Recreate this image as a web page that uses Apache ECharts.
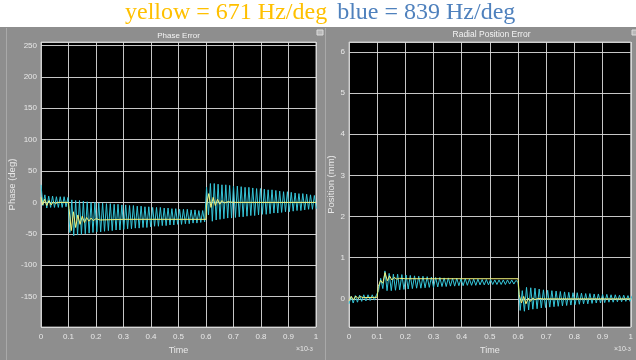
<!DOCTYPE html>
<html>
<head>
<meta charset="utf-8">
<script src="https://cdn.jsdelivr.net/npm/echarts@6/dist/echarts.min.js"></script>
<style>
html, body { margin: 0; padding: 0; background: #fff; }
#chart { width: 636px; height: 360px; background: linear-gradient(#fff 0, #fff 27px, #8e8e8e 27px); }
</style>
</head>
<body>
<div id="chart"></div>
<script>
// time spacing (x1e-3 s) between samples of the oscillating traces
const phaseStep = 0.007;
const posStep = 0.0075;

// Phase Error, deg (blue = 839 Hz/deg), one sample per half cycle
const phaseBlue = [
    28, -5, 12, -9, 10, -8, 10, -8, 9, -8, 9, -8, 9, -7, 8,
    -48, 4, -53, 3, -52, 3, -51, 2, -50, 1, -49, 0, -48, 0, -47, -1, -47, -1, -46, -2,
    -45, -2, -45, -3, -44, -3, -44, -4, -43, -4, -42, -5, -42, -5, -41, -6, -41, -6,
    -40, -7, -40, -7, -39, -8, -38, -8, -38, -8, -37, -9, -37, -9, -36, -10, -36, -10,
    -35, -11, -35, -11, -34, -11, -34, -12, -33, -12, -33, -13, -32, -13, -31,
    24, -20, 30, -30, 30, -28, 29, -27, 28, -26, 28, -25, 27, -25, 26, -24, 26, -23,
    25, -23, 24, -22, 24, -21, 23, -21, 22, -20, 22, -19, 21, -19, 20, -18, 20, -17,
    19, -17, 18, -16, 17, -15, 17, -15, 16, -14, 15, -13, 14, -13, 14, -12, 13, -11,
    12, -11, 11, -10
];

// Phase Error, deg (yellow = 671 Hz/deg), [time, value]
const phaseYellow = [
    [0, 8], [0.006, -4], [0.013, 5], [0.021, -5], [0.029, 3], [0.037, -4], [0.045, 1],
    [0.053, -2], [0.061, 0], [0.1, 0],
    [0.102, -10], [0.11, -45], [0.118, -15], [0.126, -40], [0.134, -20], [0.142, -35],
    [0.15, -22], [0.158, -32], [0.166, -24], [0.174, -30], [0.182, -25], [0.19, -29],
    [0.2, -26], [0.215, -28], [0.3, -27], [0.6, -27],
    [0.602, -5], [0.61, 14], [0.618, -8], [0.626, 8], [0.634, -5], [0.642, 5],
    [0.65, -3], [0.658, 3], [0.666, -1], [0.68, 1], [0.7, 0], [1, 0]
];

// Radial Position Error, mm (blue), one sample per half cycle
const posBlue = [
    -0.12, 0.06, -0.1, 0.08, -0.08, 0.09, -0.06, 0.1, -0.05, 0.1, -0.04, 0.1, -0.03, 0.1,
    0.2, 0.5, 0.25, 0.68, 0.2, 0.62, 0.2, 0.6, 0.21, 0.6, 0.22, 0.59, 0.23, 0.58, 0.24, 0.57,
    0.25, 0.56, 0.26, 0.55, 0.26, 0.55, 0.27, 0.54, 0.28, 0.53, 0.28, 0.52, 0.29, 0.52,
    0.3, 0.51, 0.3, 0.51, 0.31, 0.5, 0.31, 0.5, 0.32, 0.49, 0.32, 0.49, 0.33, 0.48,
    0.33, 0.48, 0.33, 0.48, 0.34, 0.47, 0.34, 0.47, 0.34, 0.47, 0.35, 0.46, 0.35, 0.46,
    0.35, 0.46, 0.35, 0.46, 0.36, 0.46, 0.36, 0.45,
    0.4,
    -0.28, 0.2, -0.3, 0.28, -0.27, 0.27, -0.25, 0.26, -0.24, 0.24, -0.22, 0.22, -0.21, 0.21,
    -0.2, 0.2, -0.19, 0.19, -0.18, 0.18, -0.17, 0.17, -0.16, 0.16, -0.15, 0.15, -0.14, 0.15,
    -0.13, 0.14, -0.12, 0.13, -0.12, 0.13, -0.11, 0.12, -0.1, 0.12, -0.1, 0.11, -0.09, 0.11,
    -0.08, 0.1, -0.08, 0.1, -0.07, 0.09, -0.07, 0.09, -0.06, 0.08, -0.06, 0.08
];

// Radial Position Error, mm (yellow), [time, value]
const posYellow = [
    [0, -0.05], [0.008, 0.06], [0.016, -0.02], [0.024, 0.07], [0.032, 0.01], [0.04, 0.06],
    [0.05, 0.03], [0.1, 0.04],
    [0.104, 0.3], [0.112, 0.45], [0.12, 0.38], [0.128, 0.64], [0.136, 0.44], [0.144, 0.56],
    [0.152, 0.46], [0.16, 0.52], [0.17, 0.48], [0.18, 0.5], [0.2, 0.49], [0.6, 0.49],
    [0.604, 0.1], [0.612, -0.1], [0.62, 0.06], [0.628, -0.12], [0.636, 0.02], [0.644, -0.06],
    [0.652, 0.02], [0.66, -0.02], [0.67, 0.01], [0.69, 0], [1, 0]
];

const blueColor = '#36c6d9';
const yellowColor = '#f2f27a';
const labelColor = '#e8e8e8';
const sans = 'Liberation Sans, Arial, sans-serif';
const serif = 'Liberation Serif, Times New Roman, serif';

function toPairs(values, step) {
    return values.map((v, i) => [i * step, v]);
}

function xAxisFor(grid) {
    return {
        type: 'value', gridIndex: grid, min: 0, max: 1, interval: 0.1,
        name: 'Time', nameLocation: 'middle', nameGap: 16,
        nameTextStyle: { color: labelColor, fontSize: 9, fontFamily: sans },
        axisLine: { show: false }, axisTick: { show: false },
        axisLabel: { color: labelColor, fontSize: 8, fontFamily: sans, margin: 6 },
        splitLine: { lineStyle: { color: 'rgba(220,220,220,0.9)', width: 1 } }
    };
}

function yAxisFor(grid, name, min, max, step, gap) {
    return {
        type: 'value', gridIndex: grid, min: min, max: max,
        minInterval: step, maxInterval: step,
        name: name, nameLocation: 'middle', nameGap: gap, nameRotate: 90,
        nameTextStyle: { color: labelColor, fontSize: 9.5, fontFamily: sans },
        axisLine: { show: false }, axisTick: { show: false },
        axisLabel: {
            color: labelColor, fontSize: 8, fontFamily: sans, margin: 4,
            showMinLabel: false, showMaxLabel: false
        },
        splitLine: { lineStyle: { color: 'rgba(220,220,220,0.9)', width: 1 } }
    };
}

function line(data, color, width, x, y) {
    return {
        type: 'line', data: data, xAxisIndex: x, yAxisIndex: y,
        symbol: 'none', animation: false,
        lineStyle: { color: color, width: width }
    };
}

const chart = echarts.init(document.getElementById('chart'));

chart.setOption({
    animation: false,
    grid: [
        { left: 41, top: 42, width: 275, height: 286, show: true, backgroundColor: '#000', borderColor: '#c8c8c8', borderWidth: 1 },
        { left: 349, top: 42, width: 285, height: 286, show: true, backgroundColor: '#000', borderColor: '#c8c8c8', borderWidth: 1 }
    ],
    xAxis: [xAxisFor(0), xAxisFor(1)],
    yAxis: [
        yAxisFor(0, 'Phase (deg)', -198.6, 255.4, 50, 20),
        yAxisFor(1, 'Position (mm)', -0.685, 6.24, 1, 10)
    ],
    series: [
        line(toPairs(phaseBlue, phaseStep), blueColor, 1, 0, 0),
        line(phaseYellow, yellowColor, 1, 0, 0),
        line(toPairs(posBlue, posStep), blueColor, 1, 1, 1),
        line(posYellow, yellowColor, 1, 1, 1)
    ],
    graphic: [
        {
            type: 'text', left: 125, top: 1,
            style: {
                text: '{y|yellow = 671 Hz/deg}   {b|blue = 839 Hz/deg}',
                rich: {
                    y: { fill: '#ffc000', fontSize: 24, fontFamily: serif },
                    b: { fill: '#4f81bd', fontSize: 24, fontFamily: serif }
                }
            }
        },
        { type: 'line', shape: { x1: 6.5, y1: 28, x2: 6.5, y2: 360 }, style: { stroke: '#a9a9a9', lineWidth: 1 } },
        { type: 'line', shape: { x1: 325.5, y1: 28, x2: 325.5, y2: 360 }, style: { stroke: '#a9a9a9', lineWidth: 1 } },
        {
            type: 'text', x: 178.5, y: 36,
            style: { text: 'Phase Error', fill: '#f4f4f4', fontSize: 8, fontFamily: sans, align: 'center', verticalAlign: 'middle' }
        },
        {
            type: 'text', x: 491.5, y: 35,
            style: { text: 'Radial Position Error', fill: '#f4f4f4', fontSize: 8.5, fontFamily: sans, align: 'center', verticalAlign: 'middle' }
        },
        { type: 'rect', shape: { x: 317, y: 30, width: 6, height: 5 }, style: { fill: '#b8b8b8', stroke: '#dcdcdc', lineWidth: 1 } },
        { type: 'rect', shape: { x: 632, y: 30, width: 6, height: 5 }, style: { fill: '#b8b8b8', stroke: '#dcdcdc', lineWidth: 1 } },
        {
            type: 'text', x: 296, y: 346,
            style: {
                text: '{a|\u00d710}{s|-3}',
                rich: {
                    a: { fill: labelColor, fontSize: 7, fontFamily: sans, verticalAlign: 'bottom' },
                    s: { fill: labelColor, fontSize: 5.5, fontFamily: sans, verticalAlign: 'top' }
                }
            }
        },
        {
            type: 'text', x: 614, y: 346,
            style: {
                text: '{a|\u00d710}{s|-3}',
                rich: {
                    a: { fill: labelColor, fontSize: 7, fontFamily: sans, verticalAlign: 'bottom' },
                    s: { fill: labelColor, fontSize: 5.5, fontFamily: sans, verticalAlign: 'top' }
                }
            }
        }
    ]
});
</script>
</body>
</html>
